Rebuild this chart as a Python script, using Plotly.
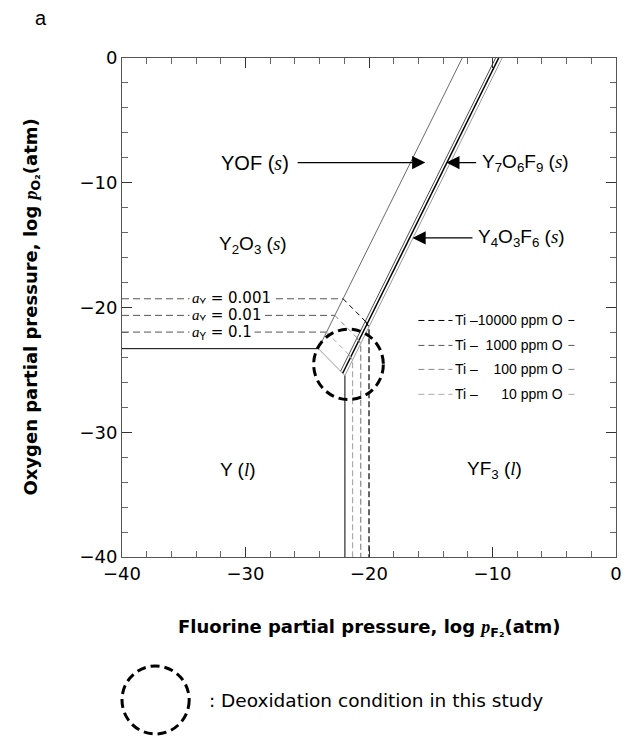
import plotly.graph_objects as go

# ---------------- data (log atm) ----------------
bound_Y_Y2O3_x = [-40, -24.1];   bound_Y_Y2O3_y = [-23.3, -23.3]
bound_Y2O3_YOF_x = [-24.1, -12.45]; bound_Y2O3_YOF_y = [-23.3, 0]
bound_Y_YOF_x = [-24.1, -21.95];  bound_Y_YOF_y = [-23.3, -25.45]
bound_Y_YF3_x = [-21.95, -21.95]; bound_Y_YF3_y = [-25.45, -40]
bound_YOF_Y7_x = [-22.3, -9.75];  bound_YOF_Y7_y = [-25.1, 0]
bound_Y7_Y4_x = [-22.13, -9.5];   bound_Y7_Y4_y = [-25.27, 0]
bound_Y4_YF3_x = [-21.95, -9.22]; bound_Y4_YF3_y = [-25.45, 0]

# Y activity iso-lines
aY_labels = ["0.001", "0.01", "0.1"]
aY_h_y = [-19.3, -20.63, -21.97]          # horizontal level in Y2O3 field
aY_h_xend = [-22.1, -22.77, -23.44]       # end on Y2O3/YOF boundary
aY_s_xend = [-20.3, -20.97, -21.64]       # slanted line in YOF field, end
aY_s_yend = [-21.1, -22.43, -23.77]
aY_v_x = [-20.0, -20.67, -21.33]          # vertical in YF3 field
aY_v_ytop = [-21.56, -22.9, -24.22]
aY_colors = ["#000000", "#888888", "#aaaaaa"]

# Ti legend rows
ti_labels = ["Ti \u201310000 ppm O", "Ti \u2013\u20071000 ppm O",
             "Ti \u2013\u2007\u2007100 ppm O", "Ti \u2013\u2007\u2007\u200710 ppm O"]
ti_y = [-21.04, -23.04, -24.96, -26.96]
ti_colors = ["#000000", "#555555", "#888888", "#aaaaaa"]

# deoxidation circle (center, radius)
circ_c = (-21.66, -24.56); circ_r = 2.82

SANS = "Liberation Sans, Arial, sans-serif"
WIDE = "DejaVu Sans, Verdana, sans-serif"
SERIF = "Liberation Serif, Times New Roman, serif"

fig = go.Figure()

def seg(x, y, color, width, dash="solid"):
    fig.add_trace(go.Scatter(x=x, y=y, mode="lines", hoverinfo="skip",
                             line=dict(color=color, width=width, dash=dash),
                             showlegend=False))

seg(bound_Y_Y2O3_x, bound_Y_Y2O3_y, "#000", 1)
seg(bound_Y2O3_YOF_x, bound_Y2O3_YOF_y, "#444", 0.8)
seg(bound_Y_YOF_x, bound_Y_YOF_y, "#999", 1)
seg(bound_Y_YF3_x, bound_Y_YF3_y, "#000", 1)
seg(bound_YOF_Y7_x, bound_YOF_Y7_y, "#222", 0.8)
seg(bound_Y7_Y4_x, bound_Y7_Y4_y, "#000", 1.5)
seg(bound_Y4_YF3_x, bound_Y4_YF3_y, "#999", 1)

for i in range(3):
    seg([-40, aY_h_xend[i]], [aY_h_y[i], aY_h_y[i]], "#555", 1, "7px,4px")
    seg([aY_h_xend[i], aY_s_xend[i]], [aY_h_y[i], aY_s_yend[i]], aY_colors[i], 1, "5px,4px")
    seg([aY_s_xend[i], aY_v_x[i], aY_v_x[i]], [aY_s_yend[i], aY_v_ytop[i], -40],
        aY_colors[i], 1.2, "6px,3px")

for i in range(4):
    seg([-16.0, -3.3], [ti_y[i], ti_y[i]], ti_colors[i], 1, "6px,4px")

ann = []
# a_Y labels
for i in range(3):
    ann.append(dict(x=-34.6, y=aY_h_y[i], xanchor="left", yanchor="middle",
                    text=f'<span style="font-family:{SERIF}"><i>a</i></span><sub>Y</sub> = {aY_labels[i]}',
                    showarrow=False, bgcolor="white", borderpad=2,
                    font=dict(family=WIDE, size=15, color="black")))
# Ti legend text
for i in range(4):
    ann.append(dict(x=-13.3, y=ti_y[i], xanchor="left", yanchor="middle",
                    text=ti_labels[i], showarrow=False, bgcolor="white", borderpad=2,
                    font=dict(family=SANS, size=14, color="black")))

def phase(x, y, txt, anchor="center", size=19):
    ann.append(dict(x=x, y=y, xanchor=anchor, yanchor="middle", text=txt, showarrow=False,
                    font=dict(family=SANS, size=size, color="black")))

S = f'<span style="font-family:{SERIF}"><i>s</i></span>'
L = f'<span style="font-family:{SERIF}"><i>l</i></span>'
phase(-26.3, -8.38, f"YOF ({S})", "right", 20)
phase(-29.4, -15.0, f"Y<sub>2</sub>O<sub>3</sub> ({S})")
phase(-11.0, -8.38, f"Y<sub>7</sub>O<sub>6</sub>F<sub>9</sub> ({S})", "left")
phase(-11.3, -14.42, f"Y<sub>4</sub>O<sub>3</sub>F<sub>6</sub> ({S})", "left")
phase(-30.6, -33.0, f"Y ({L})")
phase(-9.8, -33.0, f"YF<sub>3</sub> ({L})")

# arrows (tip, tail)
arrows = [((-15.44, -8.38), (-25.9, -8.38)),
          ((-13.74, -8.38), (-11.2, -8.38)),
          ((-16.48, -14.42), (-11.5, -14.42))]
for (tx, ty), (sx, sy) in arrows:
    ann.append(dict(x=tx, y=ty, ax=sx, ay=sy, xref="x", yref="y", axref="x", ayref="y",
                    text="", showarrow=True, arrowhead=2, arrowsize=2.2, arrowwidth=1.2,
                    arrowcolor="black"))

# axis titles and panel label
ann.append(dict(x=0.5, y=-0.142, xref="paper", yref="paper", xanchor="center", yanchor="middle",
                text=f'<b>Fluorine partial pressure, log </b><span style="font-family:{SERIF}"><b><i>p</i></b></span><sub><b>F₂</b></sub><b>(atm)</b>',
                showarrow=False, font=dict(family=WIDE, size=18, color="black")))
ann.append(dict(x=-0.184, y=0.5, xref="paper", yref="paper", xanchor="center", yanchor="middle",
                textangle=-90,
                text=f'<b>Oxygen partial pressure, log </b><span style="font-family:{SERIF}"><b><i>p</i></b></span><sub><b>O₂</b></sub><b>(atm)</b>',
                showarrow=False, font=dict(family=WIDE, size=18, color="black")))
ann.append(dict(x=-0.164, y=1.08, xref="paper", yref="paper", xanchor="center", yanchor="middle",
                text="a", showarrow=False, font=dict(family=SANS, size=20, color="black")))
ann.append(dict(x=0.172, y=-0.2866, xref="paper", yref="paper", xanchor="left", yanchor="middle",
                text=": Deoxidation condition in this study", showarrow=False,
                font=dict(family=WIDE, size=18.5, color="black")))

shapes = [
    dict(type="circle", xref="x", yref="y",
         x0=circ_c[0] - circ_r, x1=circ_c[0] + circ_r,
         y0=circ_c[1] - circ_r, y1=circ_c[1] + circ_r,
         line=dict(color="black", width=3, dash="9px,5px")),
    dict(type="circle", xref="paper", yref="paper",
         x0=0.0, x1=0.136, y0=-0.3547, y1=-0.2184,
         line=dict(color="black", width=3, dash="9px,5px")),
]

axis_common = dict(showline=True, linecolor="#555", linewidth=1, mirror="ticks",
                   ticks="inside", ticklen=10, tickwidth=1, tickcolor="#333",
                   showgrid=False, zeroline=False,
                   tickfont=dict(family=WIDE, size=18, color="black"),
                   minor=dict(ticks="inside", ticklen=6, tickcolor="#666", dtick=2, showgrid=False))

fig.update_layout(
    width=630, height=736, autosize=False,
    margin=dict(l=122, r=8, t=58, b=179),
    paper_bgcolor="white", plot_bgcolor="white",
    xaxis=dict(range=[-40, 0], tick0=-40, dtick=10, **axis_common),
    yaxis=dict(range=[-40, 0], tick0=-40, dtick=10, **axis_common),
    annotations=ann, shapes=shapes, showlegend=False,
)

fig.write_html("out.html")
